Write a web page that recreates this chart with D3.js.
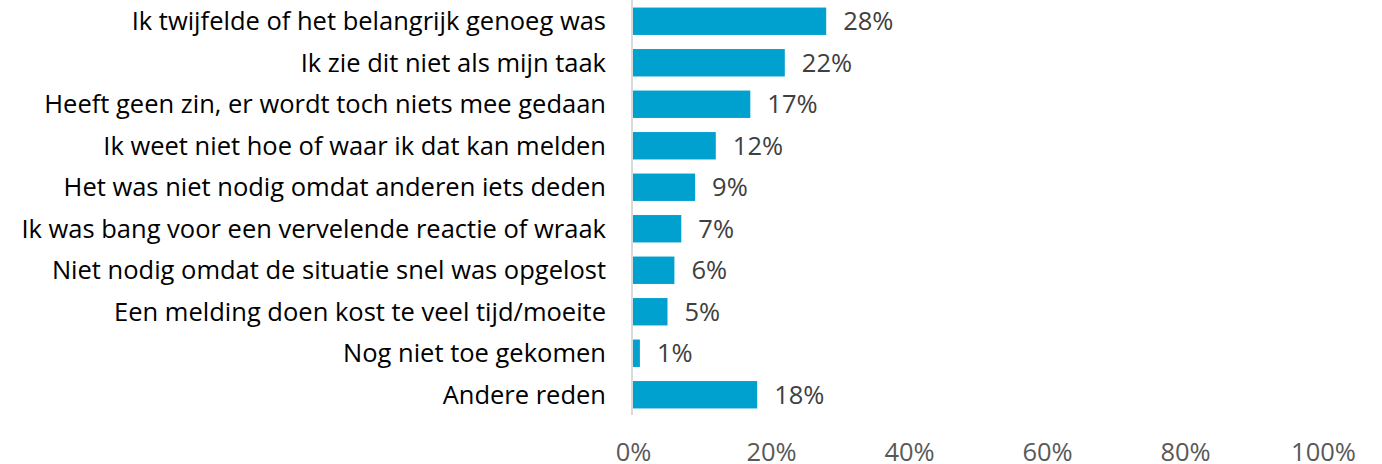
<!DOCTYPE html>
<html>
<head>
<meta charset="utf-8">
<script src="https://cdn.jsdelivr.net/npm/d3@7"></script>
<style>
  body { margin: 0; background: #fff; }
  svg { display: block; }
</style>
</head>
<body>
<svg id="chart"></svg>
<script>
// redenen om niet te melden
const categories = [
  "Ik twijfelde of het belangrijk genoeg was",
  "Ik zie dit niet als mijn taak",
  "Heeft geen zin, er wordt toch niets mee gedaan",
  "Ik weet niet hoe of waar ik dat kan melden",
  "Het was niet nodig omdat anderen iets deden",
  "Ik was bang voor een vervelende reactie of wraak",
  "Niet nodig omdat de situatie snel was opgelost",
  "Een melding doen kost te veel tijd/moeite",
  "Nog niet toe gekomen",
  "Andere reden"
];
const values = [28, 22, 17, 12, 9, 7, 6, 5, 1, 18];
const ticks = [0, 20, 40, 60, 80, 100];

const width = 1382, height = 464;
const font = "Open Sans";
const fontSize = "25.5px";

const svg = d3.select("#chart")
  .attr("width", width)
  .attr("height", height);

const data = categories.map((c, i) => ({key: c, value: values[i]}));

const x = d3.scaleLinear()
  .domain([0, 100])
  .range([633, 1323]);

const y = d3.scaleBand()
  .domain(categories)
  .range([0.5, 415.5])
  .paddingInner(0.34)
  .paddingOuter(0.17);

// bars
svg.selectAll("rect.bar")
  .data(data)
  .join("rect")
  .attr("class", "bar")
  .attr("x", x(0))
  .attr("y", d => y(d.key))
  .attr("width", d => x(d.value) - x(0))
  .attr("height", y.bandwidth())
  .style("fill", "#00A0CF");

// vertical axis line
svg.append("line")
  .attr("x1", x(0) - 1).attr("x2", x(0) - 1)
  .attr("y1", 0).attr("y2", 415)
  .style("stroke", "#d9d9d9")
  .style("stroke-width", 2);

// category labels
svg.selectAll("text.cat")
  .data(data)
  .join("text")
  .attr("class", "cat")
  .attr("x", x(0) - 27)
  .attr("y", d => y(d.key) + y.bandwidth() / 2)
  .attr("dy", "0.36em")
  .attr("text-anchor", "end")
  .style("font-family", font)
  .style("font-size", fontSize)
  .style("fill", "#000")
  .text(d => d.key);

// value labels
svg.selectAll("text.val")
  .data(data)
  .join("text")
  .attr("class", "val")
  .attr("x", d => x(d.value) + 17)
  .attr("y", d => y(d.key) + y.bandwidth() / 2)
  .attr("dy", "0.36em")
  .style("font-family", font)
  .style("font-size", fontSize)
  .style("fill", "#404040")
  .text(d => d.value + "%");

// x axis tick labels
const xAxis = svg.append("g")
  .attr("transform", `translate(0, 443)`)
  .call(d3.axisBottom(x).tickValues(ticks).tickFormat(d => d + "%").tickSize(0).tickPadding(0));
xAxis.select(".domain").remove();
xAxis.selectAll("text")
  .style("font-family", font)
  .style("font-size", fontSize)
  .style("fill", "#595959");
</script>
</body>
</html>
